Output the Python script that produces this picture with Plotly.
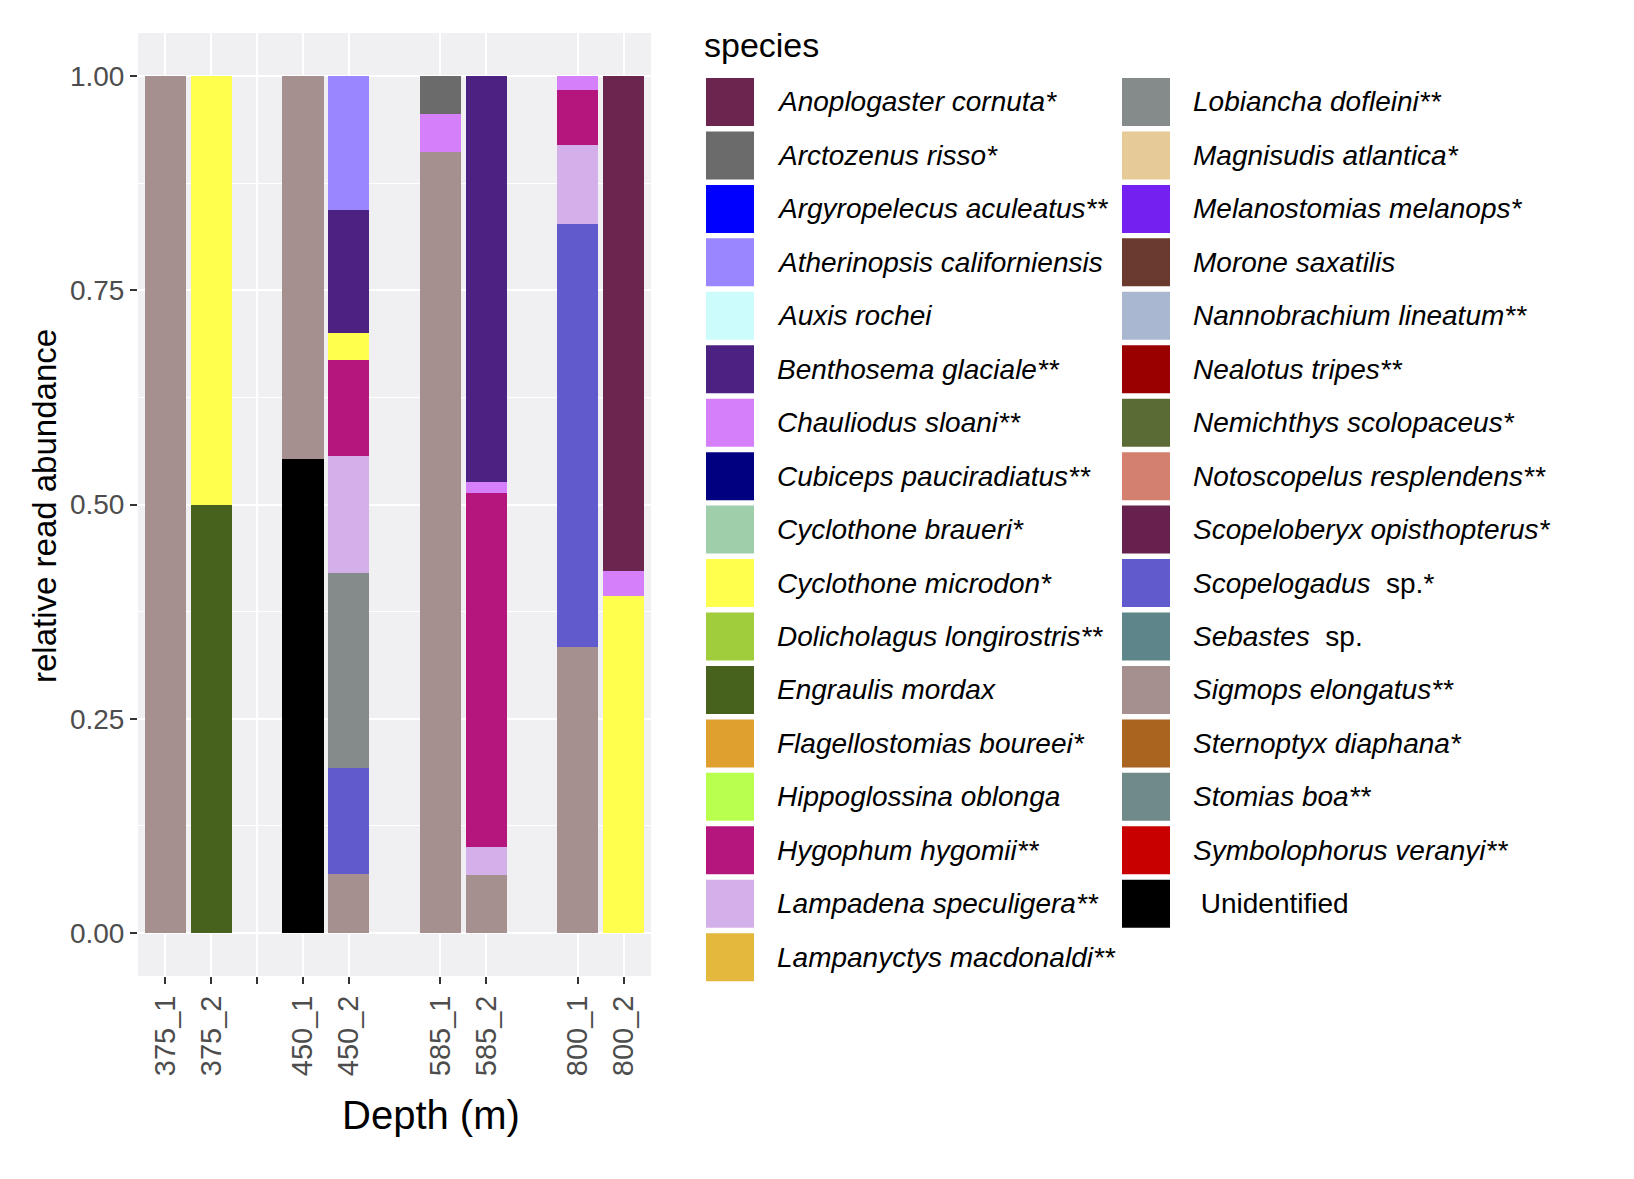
import plotly.graph_objects as go

# ---------------- data ----------------
samples = ["375_1", "375_2", "450_1", "450_2", "585_1", "585_2", "800_1", "800_2"]
category_order = ["375_1", "375_2", " ", "450_1", "450_2", "  ", "585_1", "585_2", "   ", "800_1", "800_2"]
tick_categories = ["375_1", "375_2", " ", "450_1", "450_2", "585_1", "585_2", "800_1", "800_2"]

species = [
    "Anoplogaster cornuta*", "Arctozenus risso*", "Argyropelecus aculeatus**",
    "Atherinopsis californiensis", "Auxis rochei", "Benthosema glaciale**",
    "Chauliodus sloani**", "Cubiceps pauciradiatus**", "Cyclothone braueri*",
    "Cyclothone microdon*", "Dolicholagus longirostris**", "Engraulis mordax",
    "Flagellostomias boureei*", "Hippoglossina oblonga", "Hygophum hygomii**",
    "Lampadena speculigera**", "Lampanyctys macdonaldi**", "Lobiancha dofleini**",
    "Magnisudis atlantica*", "Melanostomias melanops*", "Morone saxatilis",
    "Nannobrachium lineatum**", "Nealotus tripes**", "Nemichthys scolopaceus*",
    "Notoscopelus resplendens**", "Scopeloberyx opisthopterus*", "Scopelogadus sp.*",
    "Sebastes sp.", "Sigmops elongatus**", "Sternoptyx diaphana*", "Stomias boa**",
    "Symbolophorus veranyi**", "Unidentified",
]
species_colors = [
    "#6B2650", "#6B6B6B", "#0000FF", "#9A86FF", "#CCFCFC", "#4B2181",
    "#D67FFA", "#000080", "#9ECFAA", "#FFFF4D", "#A0CD3C", "#46621C",
    "#E0A030", "#B9FF4D", "#B5167E", "#D3B0EA", "#E4B83C", "#858A8A",
    "#E6CB98", "#7420F0", "#6B3A2E", "#A9B7D1", "#990000", "#5A6B35",
    "#D4806E", "#66214F", "#615ACC", "#5E8589", "#A6908F", "#A96420",
    "#6F8A88", "#C80000", "#000000",
]

# relative read abundance per sample (order of `samples`)
anoplogaster_cornuta    = [0, 0, 0, 0, 0, 0, 0, 0.578]
arctozenus_risso        = [0, 0, 0, 0, 0.045, 0, 0, 0]
atherinopsis_calif      = [0, 0, 0, 0.157, 0, 0, 0, 0]
benthosema_glaciale     = [0, 0, 0, 0.143, 0, 0.474, 0, 0]
chauliodus_sloani       = [0, 0, 0, 0, 0.044, 0.013, 0.016, 0.029]
cyclothone_microdon     = [0, 0.5, 0, 0.032, 0, 0, 0, 0.393]
engraulis_mordax        = [0, 0.5, 0, 0, 0, 0, 0, 0]
hygophum_hygomii        = [0, 0, 0, 0.111, 0, 0.413, 0.065, 0]
lampadena_speculigera   = [0, 0, 0, 0.137, 0, 0.032, 0.092, 0]
lobiancha_dofleini      = [0, 0, 0, 0.227, 0, 0, 0, 0]
scopelogadus_sp         = [0, 0, 0, 0.124, 0, 0, 0.493, 0]
sigmops_elongatus       = [1.0, 0, 0.447, 0.069, 0.911, 0.068, 0.334, 0]
unidentified            = [0, 0, 0.553, 0, 0, 0, 0, 0]

present = {
    "Anoplogaster cornuta*": anoplogaster_cornuta,
    "Arctozenus risso*": arctozenus_risso,
    "Atherinopsis californiensis": atherinopsis_calif,
    "Benthosema glaciale**": benthosema_glaciale,
    "Chauliodus sloani**": chauliodus_sloani,
    "Cyclothone microdon*": cyclothone_microdon,
    "Engraulis mordax": engraulis_mordax,
    "Hygophum hygomii**": hygophum_hygomii,
    "Lampadena speculigera**": lampadena_speculigera,
    "Lobiancha dofleini**": lobiancha_dofleini,
    "Scopelogadus sp.*": scopelogadus_sp,
    "Sigmops elongatus**": sigmops_elongatus,
    "Unidentified": unidentified,
}

y_ticks = [0, 0.25, 0.5, 0.75, 1.0]
y_ticklabels = ["0.00", "0.25", "0.50", "0.75", "1.00"]

# ---------------- figure ----------------
W, H = 1634, 1179
PL, PR, PT, PB = 130, 643, 25, 968   # panel in pixels


def px_x(px):
    return (px - PL) / (PR - PL)


def px_y(py):
    return (PB - py) / (PB - PT)


fig = go.Figure()
# ggplot stacks the first factor level on top -> add in reverse order
for name, col in reversed(list(zip(species, species_colors))):
    if name in present:
        fig.add_trace(go.Bar(
            x=samples, y=present[name], name=name, width=0.9,
            marker=dict(color=col, line=dict(width=0)),
            showlegend=False,
        ))

FONT = "Arial"
fig.update_layout(
    width=W, height=H,
    barmode="stack",
    margin=dict(l=PL, r=W - PR, t=PT, b=H - PB, pad=0),
    paper_bgcolor="white",
    plot_bgcolor="#F0F0F2",
    font=dict(family=FONT, color="black"),
    xaxis=dict(
        type="category", categoryorder="array", categoryarray=category_order,
        range=[-0.6, len(category_order) - 0.4],
        tickmode="array", tickvals=tick_categories,
        ticktext=[t.strip() for t in tick_categories],
        tickangle=-90, ticks="outside", ticklen=7, tickwidth=2, tickcolor="#333333",
        tickfont=dict(size=29, color="#4D4D4D", family=FONT),
        showgrid=True, gridcolor="white", gridwidth=2,
        zeroline=False, showline=False,
    ),
    yaxis=dict(
        range=[-0.05, 1.05],
        tickmode="array", tickvals=y_ticks, ticktext=y_ticklabels,
        ticks="outside", ticklen=7, tickwidth=2, tickcolor="#333333",
        tickfont=dict(size=28, color="#4D4D4D", family=FONT),
        showgrid=True, gridcolor="white", gridwidth=2,
        minor=dict(tickvals=[0.125, 0.375, 0.625, 0.875], showgrid=True,
                   gridcolor="white", gridwidth=1, ticks=""),
        zeroline=False, showline=False,
    ),
)

annotations = [
    dict(text="Depth (m)", x=px_x(423), y=px_y(1107), xref="paper", yref="paper",
         showarrow=False, xanchor="center", yanchor="middle",
         font=dict(size=40, family=FONT, color="black")),
    dict(text="relative read abundance", x=px_x(36), y=px_y(498), xref="paper", yref="paper",
         showarrow=False, xanchor="center", yanchor="middle", textangle=-90,
         font=dict(size=33, family=FONT, color="black")),
    dict(text="species", x=px_x(694), y=px_y(37), xref="paper", yref="paper",
         showarrow=False, xanchor="left", yanchor="middle",
         font=dict(size=34, family=FONT, color="black")),
]
shapes = []


def fmt(name):
    if name == "Unidentified":
        return " Unidentified"
    if " sp." in name:
        genus, rest = name.split(" sp.")
        return "<i>" + genus + "</i>  sp." + rest
    return "<i>" + name + "</i>"


ROW0, ROWH, KEY = 94, 53.45, 48
for i, (name, col) in enumerate(zip(species, species_colors)):
    c, r = (0, i) if i < 17 else (1, i - 17)
    kx = 698 if c == 0 else 1114
    tx = 767 if c == 0 else 1183
    cy = ROW0 + r * ROWH
    shapes.append(dict(type="rect", xref="paper", yref="paper",
                       x0=px_x(kx), x1=px_x(kx + KEY),
                       y0=px_y(cy + KEY / 2), y1=px_y(cy - KEY / 2),
                       fillcolor=col, line=dict(width=0), layer="above"))
    annotations.append(dict(text=fmt(name), x=px_x(tx), y=px_y(cy), xref="paper", yref="paper",
                            showarrow=False, xanchor="left", yanchor="middle",
                            font=dict(size=28, family=FONT, color="black")))

fig.update_layout(annotations=annotations, shapes=shapes)
fig.write_html("out.html")
